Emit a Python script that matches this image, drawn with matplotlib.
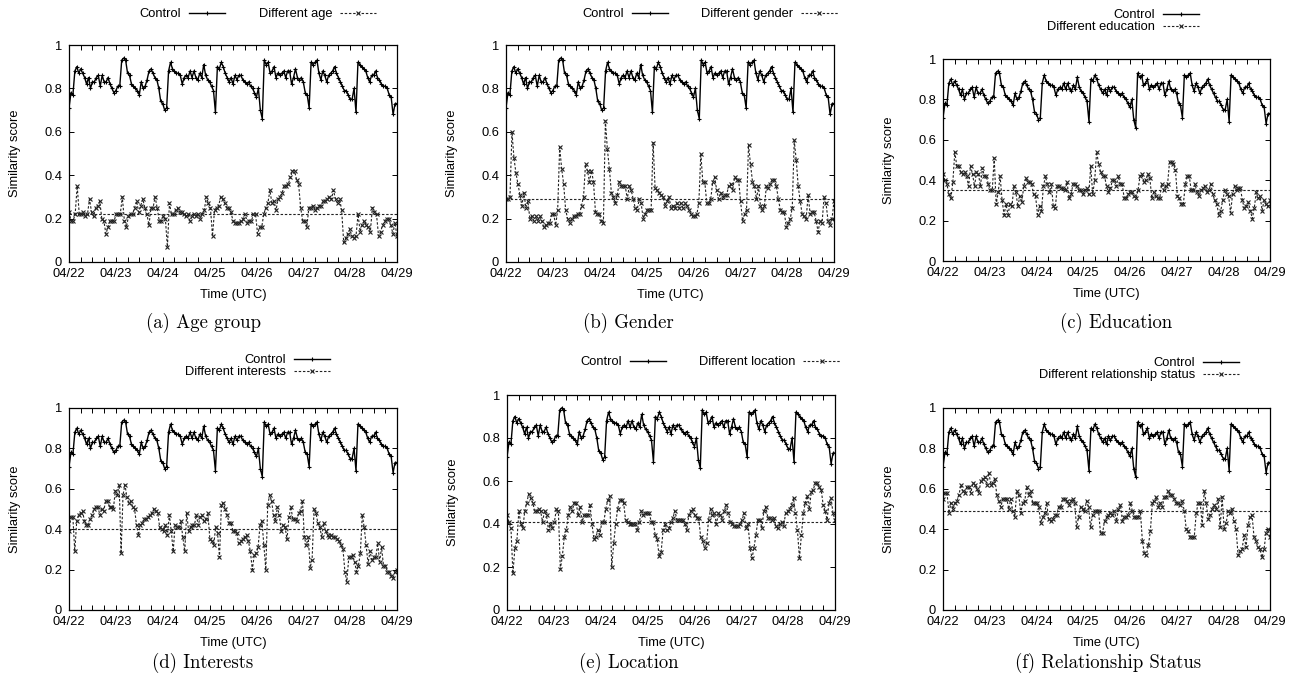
import numpy as np
import matplotlib
matplotlib.use("Agg")
import matplotlib.pyplot as plt
from matplotlib.ticker import MultipleLocator

plt.rcParams['font.family'] = ['Liberation Sans', 'DejaVu Sans']
plt.rcParams['axes.formatter.use_mathtext'] = True

# ---------------- data ----------------
day_labels = ["04/22", "04/23", "04/24", "04/25", "04/26", "04/27", "04/28", "04/29"]
y_ticks = [0, 0.2, 0.4, 0.6, 0.8, 1.0]
y_tick_labels = ["0", "0.2", "0.4", "0.6", "0.8", "1"]

control = [0.71, 0.78, 0.77, 0.88, 0.90, 0.87, 0.89, 0.87, 0.85, 0.82, 0.85, 0.80, 0.83, 0.83, 0.85, 0.86, 0.81, 0.86, 0.83, 0.83, 0.85, 0.82, 0.80, 0.78,
           0.79, 0.81, 0.81, 0.93, 0.94, 0.93, 0.87, 0.86, 0.82, 0.81, 0.80, 0.79, 0.77, 0.83, 0.80, 0.81, 0.84, 0.88, 0.89, 0.87, 0.85, 0.84, 0.80, 0.74,
           0.73, 0.70, 0.71, 0.88, 0.92, 0.89, 0.88, 0.87, 0.87, 0.86, 0.82, 0.85, 0.86, 0.85, 0.88, 0.85, 0.88, 0.85, 0.84, 0.87, 0.85, 0.91, 0.86, 0.84,
           0.83, 0.81, 0.79, 0.69, 0.90, 0.89, 0.92, 0.90, 0.87, 0.85, 0.83, 0.85, 0.82, 0.86, 0.84, 0.86, 0.86, 0.84, 0.83, 0.82, 0.83, 0.81, 0.80, 0.78,
           0.76, 0.80, 0.70, 0.66, 0.93, 0.91, 0.92, 0.87, 0.88, 0.90, 0.85, 0.87, 0.86, 0.87, 0.88, 0.85, 0.88, 0.88, 0.82, 0.85, 0.89, 0.85, 0.84, 0.85,
           0.83, 0.78, 0.77, 0.71, 0.92, 0.91, 0.92, 0.93, 0.87, 0.84, 0.88, 0.86, 0.83, 0.86, 0.87, 0.88, 0.90, 0.87, 0.85, 0.83, 0.81, 0.79, 0.79, 0.77,
           0.75, 0.75, 0.80, 0.69, 0.92, 0.91, 0.90, 0.89, 0.88, 0.85, 0.83, 0.86, 0.86, 0.88, 0.85, 0.84, 0.82, 0.81, 0.81, 0.80, 0.77, 0.76, 0.68, 0.73, 0.73]

diff_age = [0.23, 0.19, 0.19, 0.22, 0.35, 0.22, 0.22, 0.23, 0.21, 0.22, 0.29, 0.23, 0.21, 0.25, 0.26, 0.28, 0.20, 0.19, 0.13, 0.16, 0.19, 0.19, 0.19, 0.22,
            0.22, 0.22, 0.30, 0.19, 0.16, 0.21, 0.22, 0.22, 0.25, 0.28, 0.23, 0.26, 0.29, 0.25, 0.22, 0.17, 0.25, 0.25, 0.30, 0.25, 0.19, 0.19, 0.21, 0.20,
            0.07, 0.27, 0.22, 0.22, 0.24, 0.25, 0.23, 0.23, 0.22, 0.21, 0.22, 0.19, 0.21, 0.22, 0.21, 0.22, 0.20, 0.22, 0.24, 0.30, 0.27, 0.25, 0.12, 0.24,
            0.25, 0.26, 0.30, 0.29, 0.27, 0.25, 0.25, 0.23, 0.19, 0.18, 0.18, 0.18, 0.19, 0.20, 0.22, 0.18, 0.19, 0.19, 0.22, 0.22, 0.13, 0.16, 0.16, 0.22,
            0.25, 0.27, 0.33, 0.27, 0.28, 0.24, 0.29, 0.30, 0.32, 0.35, 0.35, 0.36, 0.39, 0.42, 0.42, 0.38, 0.36, 0.25, 0.19, 0.19, 0.16, 0.25, 0.25, 0.26,
            0.24, 0.25, 0.26, 0.26, 0.28, 0.28, 0.29, 0.30, 0.29, 0.33, 0.29, 0.27, 0.29, 0.24, 0.09, 0.11, 0.13, 0.15, 0.12, 0.11, 0.12, 0.22, 0.14, 0.17,
            0.19, 0.17, 0.16, 0.14, 0.25, 0.23, 0.22, 0.12, 0.14, 0.17, 0.19, 0.20, 0.20, 0.17, 0.13, 0.18, 0.12]

diff_gender = [0.29, 0.29, 0.30, 0.60, 0.48, 0.41, 0.36, 0.31, 0.26, 0.32, 0.25, 0.28, 0.20, 0.21, 0.19, 0.21, 0.19, 0.21, 0.19, 0.16, 0.17, 0.18, 0.18, 0.22,
               0.22, 0.17, 0.24, 0.53, 0.43, 0.36, 0.24, 0.20, 0.18, 0.20, 0.21, 0.21, 0.22, 0.22, 0.26, 0.30, 0.45, 0.42, 0.37, 0.42, 0.37, 0.23, 0.22, 0.22,
               0.19, 0.18, 0.65, 0.52, 0.43, 0.32, 0.30, 0.27, 0.31, 0.37, 0.35, 0.35, 0.35, 0.29, 0.35, 0.33, 0.29, 0.25, 0.24, 0.29, 0.27, 0.20, 0.22, 0.24,
               0.24, 0.24, 0.55, 0.34, 0.33, 0.32, 0.31, 0.30, 0.26, 0.28, 0.30, 0.25, 0.26, 0.25, 0.27, 0.25, 0.27, 0.25, 0.27, 0.26, 0.24, 0.22, 0.21, 0.21,
               0.22, 0.27, 0.50, 0.37, 0.37, 0.27, 0.27, 0.29, 0.37, 0.39, 0.33, 0.29, 0.32, 0.30, 0.31, 0.31, 0.35, 0.36, 0.33, 0.39, 0.38, 0.38, 0.28, 0.19,
               0.22, 0.24, 0.54, 0.45, 0.37, 0.35, 0.29, 0.35, 0.26, 0.24, 0.26, 0.35, 0.34, 0.36, 0.38, 0.38, 0.35, 0.29, 0.24, 0.23, 0.23, 0.16, 0.18, 0.20,
               0.25, 0.56, 0.47, 0.35, 0.28, 0.22, 0.21, 0.20, 0.31, 0.22, 0.23, 0.23, 0.19, 0.14, 0.19, 0.18, 0.30, 0.27, 0.19, 0.17, 0.20, 0.28]

diff_education = [0.43, 0.40, 0.38, 0.33, 0.31, 0.39, 0.54, 0.47, 0.47, 0.44, 0.43, 0.44, 0.42, 0.37, 0.47, 0.43, 0.37, 0.44, 0.43, 0.37, 0.46, 0.42, 0.42, 0.38,
                  0.35, 0.35, 0.51, 0.28, 0.34, 0.42, 0.30, 0.23, 0.28, 0.23, 0.28, 0.27, 0.37, 0.34, 0.27, 0.32, 0.29, 0.37, 0.41, 0.39, 0.39, 0.38, 0.33, 0.32,
                  0.23, 0.27, 0.25, 0.37, 0.42, 0.38, 0.34, 0.38, 0.27, 0.26, 0.37, 0.37, 0.36, 0.36, 0.35, 0.39, 0.31, 0.33, 0.38, 0.38, 0.37, 0.35, 0.35, 0.33,
                  0.35, 0.36, 0.33, 0.47, 0.33, 0.40, 0.54, 0.48, 0.44, 0.42, 0.42, 0.37, 0.34, 0.36, 0.40, 0.40, 0.37, 0.42, 0.38, 0.38, 0.31, 0.31, 0.33, 0.34,
                  0.34, 0.32, 0.31, 0.35, 0.42, 0.43, 0.39, 0.40, 0.43, 0.41, 0.31, 0.34, 0.32, 0.31, 0.31, 0.38, 0.35, 0.37, 0.38, 0.49, 0.49, 0.48, 0.45, 0.32,
                  0.31, 0.28, 0.28, 0.38, 0.42, 0.42, 0.35, 0.35, 0.38, 0.34, 0.32, 0.35, 0.36, 0.37, 0.34, 0.35, 0.38, 0.33, 0.30, 0.28, 0.23, 0.25, 0.30, 0.35,
                  0.33, 0.32, 0.24, 0.33, 0.37, 0.35, 0.36, 0.36, 0.30, 0.26, 0.27, 0.29, 0.25, 0.21, 0.26, 0.34, 0.31, 0.32, 0.25, 0.30, 0.28, 0.27, 0.30]

diff_interests = [0.39, 0.46, 0.46, 0.29, 0.44, 0.47, 0.48, 0.49, 0.44, 0.42, 0.42, 0.45, 0.47, 0.50, 0.51, 0.51, 0.47, 0.50, 0.49, 0.54, 0.54, 0.51, 0.51, 0.50,
                  0.59, 0.57, 0.62, 0.28, 0.57, 0.62, 0.56, 0.53, 0.54, 0.51, 0.50, 0.42, 0.37, 0.42, 0.43, 0.45, 0.45, 0.46, 0.47, 0.48, 0.50, 0.49, 0.48, 0.41,
                  0.40, 0.39, 0.42, 0.37, 0.47, 0.39, 0.29, 0.42, 0.41, 0.41, 0.44, 0.36, 0.29, 0.48, 0.39, 0.41, 0.42, 0.42, 0.47, 0.42, 0.46, 0.47, 0.44, 0.45,
                  0.48, 0.35, 0.34, 0.32, 0.41, 0.38, 0.26, 0.52, 0.53, 0.50, 0.47, 0.43, 0.43, 0.39, 0.39, 0.38, 0.33, 0.34, 0.35, 0.36, 0.37, 0.34, 0.29, 0.20,
                  0.27, 0.28, 0.31, 0.42, 0.44, 0.32, 0.20, 0.52, 0.57, 0.54, 0.47, 0.44, 0.51, 0.47, 0.39, 0.42, 0.41, 0.35, 0.46, 0.51, 0.45, 0.45, 0.44, 0.48,
                  0.49, 0.54, 0.36, 0.32, 0.36, 0.21, 0.25, 0.50, 0.48, 0.43, 0.41, 0.36, 0.43, 0.39, 0.37, 0.36, 0.37, 0.36, 0.36, 0.35, 0.34, 0.32, 0.30, 0.19,
                  0.14, 0.26, 0.26, 0.27, 0.24, 0.19, 0.22, 0.28, 0.47, 0.41, 0.32, 0.23, 0.29, 0.25, 0.26, 0.26, 0.33, 0.24, 0.31, 0.22, 0.22, 0.19, 0.19, 0.17,
                  0.16, 0.19, 0.20]

diff_location = [0.44, 0.41, 0.38, 0.17, 0.29, 0.32, 0.46, 0.40, 0.38, 0.46, 0.50, 0.54, 0.52, 0.50, 0.46, 0.46, 0.47, 0.46, 0.41, 0.46, 0.44, 0.37, 0.40, 0.38,
                 0.41, 0.47, 0.46, 0.19, 0.25, 0.34, 0.37, 0.44, 0.48, 0.46, 0.50, 0.50, 0.44, 0.48, 0.41, 0.44, 0.44, 0.44, 0.49, 0.40, 0.33, 0.34, 0.37, 0.35,
                 0.41, 0.41, 0.47, 0.51, 0.53, 0.20, 0.31, 0.40, 0.47, 0.51, 0.51, 0.50, 0.42, 0.41, 0.40, 0.40, 0.40, 0.40, 0.37, 0.41, 0.46, 0.44, 0.45, 0.45,
                 0.45, 0.41, 0.41, 0.35, 0.33, 0.25, 0.27, 0.37, 0.40, 0.37, 0.38, 0.41, 0.43, 0.46, 0.42, 0.42, 0.42, 0.42, 0.40, 0.37, 0.44, 0.46, 0.47, 0.44,
                 0.43, 0.43, 0.34, 0.32, 0.29, 0.31, 0.42, 0.47, 0.44, 0.45, 0.40, 0.45, 0.44, 0.42, 0.46, 0.49, 0.45, 0.41, 0.40, 0.39, 0.39, 0.39, 0.40, 0.42,
                 0.45, 0.38, 0.40, 0.29, 0.24, 0.29, 0.35, 0.42, 0.42, 0.38, 0.46, 0.48, 0.43, 0.43, 0.42, 0.43, 0.39, 0.38, 0.40, 0.41, 0.39, 0.45, 0.46, 0.47,
                 0.49, 0.52, 0.45, 0.37, 0.24, 0.35, 0.45, 0.50, 0.53, 0.47, 0.55, 0.56, 0.59, 0.59, 0.57, 0.56, 0.49, 0.46, 0.42, 0.50, 0.52, 0.45, 0.42]

diff_relationship = [0.55, 0.58, 0.58, 0.48, 0.53, 0.50, 0.53, 0.54, 0.57, 0.62, 0.59, 0.58, 0.61, 0.61, 0.58, 0.63, 0.62, 0.60, 0.58, 0.64, 0.65, 0.66, 0.62, 0.68,
                     0.62, 0.63, 0.65, 0.57, 0.54, 0.51, 0.55, 0.55, 0.55, 0.50, 0.55, 0.49, 0.46, 0.59, 0.57, 0.48, 0.53, 0.54, 0.61, 0.57, 0.59, 0.53, 0.53, 0.53,
                     0.51, 0.43, 0.46, 0.48, 0.53, 0.45, 0.44, 0.45, 0.47, 0.47, 0.51, 0.51, 0.55, 0.55, 0.54, 0.52, 0.54, 0.55, 0.53, 0.41, 0.46, 0.51, 0.50, 0.49,
                     0.54, 0.51, 0.41, 0.47, 0.49, 0.49, 0.49, 0.38, 0.38, 0.44, 0.46, 0.47, 0.48, 0.47, 0.49, 0.44, 0.50, 0.52, 0.44, 0.46, 0.46, 0.47, 0.53, 0.49,
                     0.46, 0.46, 0.46, 0.49, 0.34, 0.28, 0.27, 0.32, 0.39, 0.53, 0.54, 0.56, 0.51, 0.53, 0.51, 0.56, 0.56, 0.59, 0.57, 0.57, 0.55, 0.53, 0.53, 0.52,
                     0.54, 0.49, 0.40, 0.39, 0.36, 0.36, 0.36, 0.48, 0.53, 0.53, 0.42, 0.59, 0.53, 0.45, 0.47, 0.50, 0.52, 0.50, 0.55, 0.41, 0.56, 0.40, 0.43, 0.49,
                     0.48, 0.50, 0.44, 0.40, 0.27, 0.29, 0.30, 0.37, 0.31, 0.42, 0.46, 0.47, 0.36, 0.34, 0.31, 0.30, 0.26, 0.30, 0.38, 0.40, 0.36]

diff_series = [diff_age, diff_gender, diff_education, diff_interests, diff_location, diff_relationship]
diff_means = [0.22, 0.29, 0.35, 0.40, 0.41, 0.49]
diff_labels = ["Different age", "Different gender", "Different education",
               "Different interests", "Different location", "Different relationship status"]
captions = ["(a) Age group", "(b) Gender", "(c) Education",
            "(d) Interests", "(e) Location", "(f) Relationship Status"]

# ---------------- layout (pixels) ----------------
W, H = 1299, 688
fig = plt.figure(figsize=(W / 100, H / 100), dpi=100)

# (left, right, top, bottom)
rects = [(69, 397, 45, 262), (506, 834, 45, 262), (943, 1270, 59, 261),
         (69, 397, 408, 610), (507, 835, 395, 610), (943, 1270, 408, 610)]
# legend: (ncol, x, y) ; ncol 2 -> center anchor, ncol 1 -> upper right anchor
legends = [(2, 258, 14), (2, 710, 14), (1, 1199, 9),
           (1, 330, 354), (2, 710, 362), (1, 1239, 357)]
caption_pos = [(204, 323), (628, 323), (1116, 323),
               (203, 663), (629, 663), (1108, 663)]

FS = 9.3

for i in range(6):
    l, r, t, b = rects[i]
    ax = fig.add_axes([l / W, 1 - b / H, (r - l) / W, (b - t) / H])
    xc = np.linspace(0, 7, len(control))
    xd = np.linspace(0, 7, len(diff_series[i]))
    h1, = ax.plot(xc, control, color='black', lw=1.0, marker='+', ms=3.5, mew=0.8,
                  label="Control")
    h2, = ax.plot(xd, diff_series[i], color='#222222', lw=0.8, ls=(0, (2.2, 1.6)),
                  marker='x', ms=3.2, mew=0.8, label=diff_labels[i])
    ax.axhline(diff_means[i], color='#222222', lw=0.8, ls=(0, (2.2, 1.6)))
    ax.set_xlim(0, 7)
    ax.set_ylim(0, 1)
    ax.set_xticks(range(8))
    ax.set_xticklabels(day_labels, fontsize=FS)
    ax.xaxis.set_minor_locator(MultipleLocator(0.25))
    ax.set_yticks(y_ticks)
    ax.set_yticklabels(y_tick_labels, fontsize=FS)
    ax.tick_params(which='both', direction='in', top=True, right=True,
                   length=3.5, width=0.7)
    ax.tick_params(axis='x', pad=4)
    ax.tick_params(axis='y', pad=5)
    for sp in ax.spines.values():
        sp.set_linewidth(0.9)
    ax.set_xlabel("Time (UTC)", fontsize=FS)
    ax.set_ylabel("Similarity score", fontsize=FS)
    ax.xaxis.label.set_va('center')
    ax.yaxis.label.set_va('center')
    ax.xaxis.set_label_coords(0.5, -33 / (b - t))
    ax.yaxis.set_label_coords(-54 / (r - l), 0.5)

    ncol, lx, ly = legends[i]
    if ncol == 2:
        loc = 'center'
    else:
        loc = 'upper right'
    fig.legend(handles=[h1, h2], loc=loc, bbox_to_anchor=(lx / W, 1 - ly / H),
               ncol=ncol, frameon=False, fontsize=FS, markerfirst=False,
               borderpad=0, borderaxespad=0, handlelength=2.8, handletextpad=0.6,
               columnspacing=2.6, labelspacing=0.0, numpoints=1)

    cx, cy = caption_pos[i]
    fig.text(cx / W, 1 - cy / H, captions[i], ha='center', va='center',
             family='cmr10', fontsize=13.5)

fig.savefig("out.png", dpi=100)
